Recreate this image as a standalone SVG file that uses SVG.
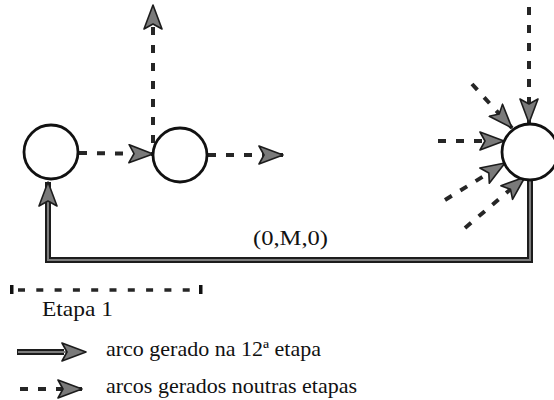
<svg xmlns="http://www.w3.org/2000/svg" width="554" height="400" viewBox="0 0 554 400">
<style>
.node{fill:#fff;stroke:#111;stroke-width:2.8}
.dash{fill:none;stroke:#262626;stroke-width:4;stroke-dasharray:8 10}
.solidO{fill:none;stroke:#1c1c1c;stroke-width:6;stroke-linejoin:miter}
.solidI{fill:none;stroke:#7d7d7d;stroke-width:2;stroke-linejoin:miter}
.lbl{font-family:"Liberation Serif","Times New Roman",serif;font-size:22px;fill:#111}
</style>
<defs>
<marker id="ah" markerUnits="userSpaceOnUse" markerWidth="26" markerHeight="20" viewBox="-1 -1 26 20" refX="24" refY="9" orient="auto">
<path d="M0,0 L24,9 L0,18 L5,9 Z" fill="#7a7a7a" stroke="#1c1c1c" stroke-width="1.6" stroke-linejoin="round"/>
</marker>
</defs>
<g id="connectors">
<line class="dash" x1="79" y1="153" x2="153" y2="154" marker-end="url(#ah)"/>
<line class="dash" x1="208" y1="155" x2="283" y2="155" marker-end="url(#ah)"/>
<line class="dash" x1="153" y1="143" x2="153" y2="5" marker-end="url(#ah)"/>
<line class="dash" x1="529" y1="7" x2="529" y2="123" marker-end="url(#ah)"/>
<line class="dash" x1="472" y1="84" x2="512" y2="128" marker-end="url(#ah)"/>
<line class="dash" x1="438" y1="141" x2="504" y2="141" marker-end="url(#ah)"/>
<line class="dash" x1="445" y1="200" x2="505" y2="163" marker-end="url(#ah)"/>
<line class="dash" x1="465" y1="228" x2="525" y2="177" marker-end="url(#ah)"/>
<path class="solidO" d="M530,180 L530,260 L48,260 L48,182"/>
<path class="solidI" d="M530,180 L530,260 L48,260 L48,182" marker-end="url(#ah)"/>
</g>
<g id="node1"><circle class="node" cx="51" cy="152" r="27"/></g>
<g id="node2"><circle class="node" cx="180" cy="155" r="27"/></g>
<g id="node3"><circle class="node" cx="530" cy="152" r="28"/></g>
<g id="edge-label"><text class="lbl" x="253" y="245" textLength="75" lengthAdjust="spacingAndGlyphs">(0,M,0)</text></g>
<g id="etapa">
<rect x="10" y="285" width="3.5" height="9" fill="#111"/>
<line x1="18" y1="290" x2="196" y2="290" stroke="#262626" stroke-width="3.5" stroke-dasharray="7 11.3"/>
<rect x="199" y="285" width="3.5" height="9" fill="#111"/>
<text class="lbl" x="42" y="316" textLength="71" lengthAdjust="spacingAndGlyphs">Etapa 1</text>
</g>
<g id="legend">
<path class="solidO" d="M17,352 L64,352"/>
<path class="solidI" d="M18,352 L86,352" marker-end="url(#ah)"/>
<text class="lbl" x="106" y="356">arco gerado na 12ª etapa</text>
<line class="dash" x1="20" y1="389" x2="82" y2="389" stroke-dasharray="7 8" marker-end="url(#ah)"/>
<text class="lbl" x="106" y="393">arcos gerados noutras etapas</text>
</g>
</svg>
